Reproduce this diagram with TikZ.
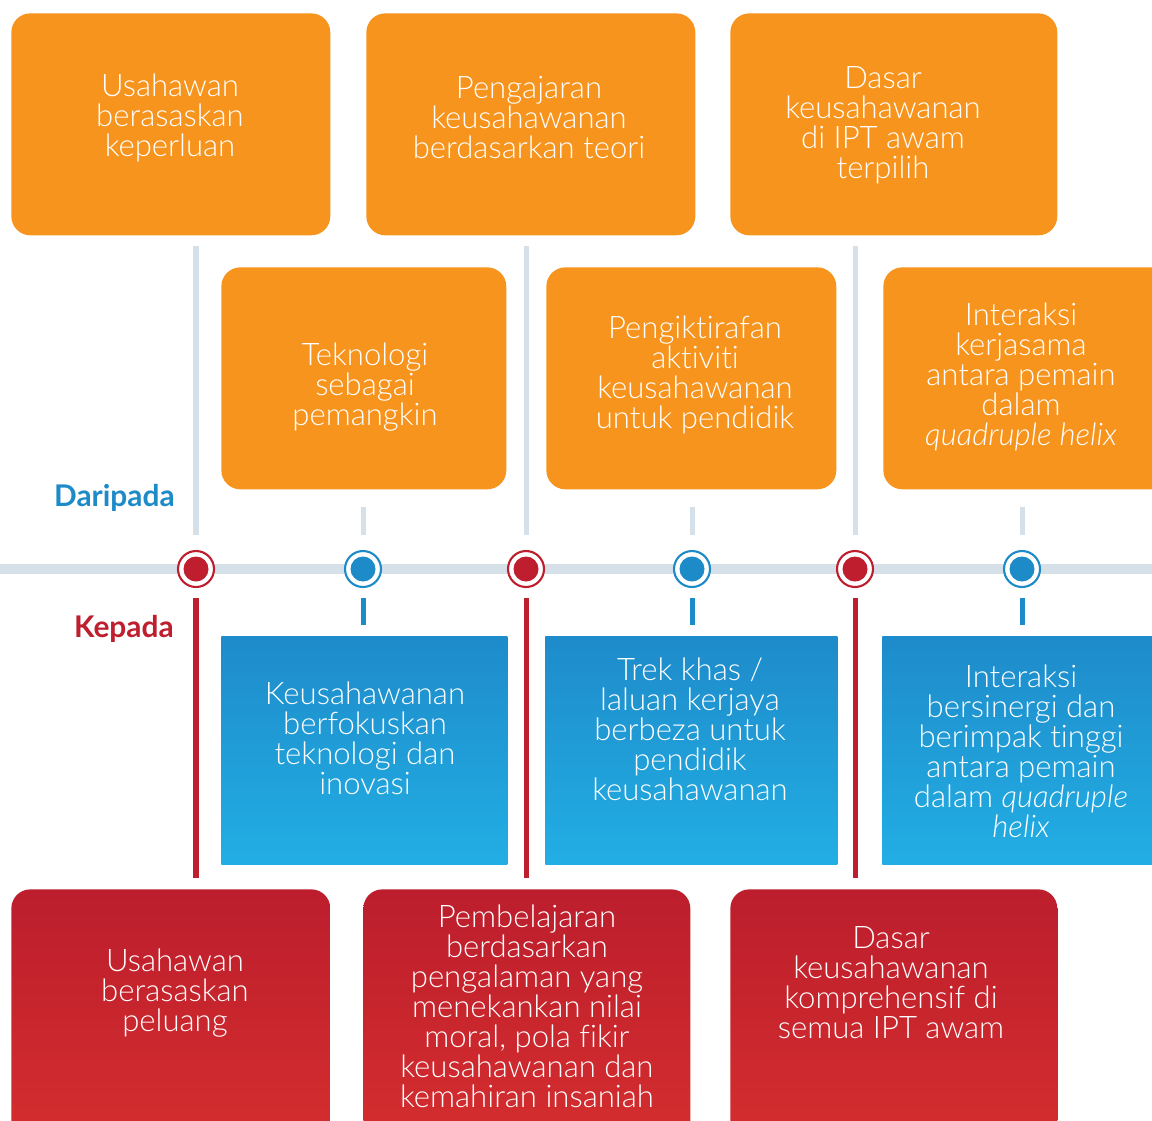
\documentclass[tikz,border=0pt]{standalone}
\usepackage{fontspec}
\setmainfont{Lato}[Ligatures=NoCommon, UprightFont=* Light, ItalicFont=* Light Italic, BoldFont=* Bold]
\usetikzlibrary{calc}

\definecolor{oren}{HTML}{F7941D}
\definecolor{garis}{HTML}{D6E0E8}
\definecolor{biru}{HTML}{1E8BC9}
\definecolor{biruAtas}{HTML}{1E8BCA}
\definecolor{biruBawah}{HTML}{22AEE4}
\definecolor{merah}{HTML}{BE1E2D}
\definecolor{merahAtas}{HTML}{BC1E2D}
\definecolor{merahBawah}{HTML}{D52E2E}

\begin{document}
\begin{tikzpicture}[
    x=0.02cm, y=-0.02cm,
    lama/.style={fill=oren,rounded corners=0.38cm,anchor=north west,minimum height=4.44cm,inner sep=0pt},
    baru/.style={top color=biruAtas,bottom color=biruBawah,anchor=north west,minimum height=4.56cm,inner sep=0pt},
    akhir/.style={top color=merahAtas,bottom color=merahBawah,rounded corners=0.38cm,anchor=north west,minimum height=5.2cm,inner sep=0pt},
    teks/.style={text=white,align=center,inner sep=0pt,font=\fontsize{17.7}{17.07}\selectfont},
    tajuk/.style={anchor=east,inner sep=0pt,font=\fontsize{17}{17}\selectfont\bfseries},
    tanda/.style={circle,draw=#1,line width=1.2pt,fill=white,minimum size=0.72cm,inner sep=0pt,
      path picture={\fill[#1] (path picture bounding box.center) circle (0.25cm);}},
    kelabu/.style={draw=garis,line width=2.85pt},
    tegak/.style={draw=#1,line width=2.85pt}]
  \useasboundingbox (0,0) rectangle (1152,1120);
  \clip (0,0) rectangle (1152,1120);
  \fill[white] (0,0) rectangle (1152,1120);

  \node[lama,minimum width=6.38cm] (lama1) at (11,13) {};
  \node[lama,minimum width=6.58cm] (lama2) at (366,13) {};
  \node[lama,minimum width=6.54cm] (lama3) at (730,13) {};
  \node[lama,minimum width=5.70cm] (lama4) at (221,267) {};
  \node[lama,minimum width=5.80cm] (lama5) at (546,267) {};
  \node[lama,minimum width=6.40cm] (lama6) at (883,267) {};
  \node[teks] (tlama1) at (170,118) {Usahawan\\berasaskan\\keperluan};
  \node[teks] (tlama2) at (529,118) {Pengajaran\\keusahawanan\\berdasarkan teori};
  \node[teks] (tlama3) at (883,125) {Dasar\\keusahawanan\\di IPT awam\\terpilih};
  \node[teks] (tlama4) at (365,387) {Teknologi\\sebagai\\pemangkin};
  \node[teks] (tlama5) at (695,375) {Pengiktirafan\\aktiviti\\keusahawanan\\untuk pendidik};
  \node[teks] (tlama6) at (1021,377) {Interaksi\\kerjasama\\antara pemain\\dalam\\\textit{quadruple helix}};

  \coordinate (kiri) at (0,569);
  \coordinate (kanan) at (1152,569);
  \draw[garis,line width=5.7pt] (kiri) -- (kanan);

  \node[tajuk,text=biru] (daripada) at (175,498) {Daripada};
  \node[tajuk,text=merah] (kepada) at (174,629) {Kepada};

  \node[tanda=merah] (m1) at (196,569) {};
  \node[tanda=biru] (m2) at (363,569) {};
  \node[tanda=merah] (m3) at (526,569) {};
  \node[tanda=biru] (m4) at (692,569) {};
  \node[tanda=merah] (m5) at (855,569) {};
  \node[tanda=biru] (m6) at (1022,569) {};

  \draw[kelabu] ($(m1 |- lama1.south)+(0,10)$) -- ($(m1.north)+(0,-15)$);
  \draw[kelabu] ($(m3 |- lama2.south)+(0,10)$) -- ($(m3.north)+(0,-15)$);
  \draw[kelabu] ($(m5 |- lama3.south)+(0,10)$) -- ($(m5.north)+(0,-15)$);
  \draw[kelabu] ($(m2 |- lama4.south)+(0,17)$) -- ($(m2.north)+(0,-15)$);
  \draw[kelabu] ($(m4 |- lama5.south)+(0,17)$) -- ($(m4.north)+(0,-15)$);
  \draw[kelabu] ($(m6 |- lama6.south)+(0,17)$) -- ($(m6.north)+(0,-15)$);

  \node[baru,minimum width=5.72cm] (baru1) at (221,636) {};
  \node[baru,minimum width=5.84cm] (baru2) at (545,636) {};
  \node[baru,minimum width=6.40cm] (baru3) at (882,636) {};
  \node[teks] (tbaru1) at (365,738) {Keusahawanan\\berfokuskan\\teknologi dan\\inovasi};
  \node[teks] (tbaru2) at (690,729) {Trek khas /\\laluan kerjaya\\berbeza untuk\\pendidik\\keusahawanan};
  \node[teks] (tbaru3) at (1021,751) {Interaksi\\bersinergi dan\\berimpak tinggi\\antara pemain\\dalam \textit{quadruple}\\\textit{helix}};

  \node[akhir,minimum width=6.38cm] (akhir1) at (11,889) {};
  \node[akhir,minimum width=6.54cm] (akhir2) at (363,889) {};
  \node[akhir,minimum width=6.54cm] (akhir3) at (730,889) {};
  \node[teks] (takhir1) at (175,993) {Usahawan\\berasaskan\\peluang};
  \node[teks] (takhir2) at (527,1006) {Pembelajaran\\berdasarkan\\pengalaman yang\\menekankan nilai\\moral, pola fikir\\keusahawanan dan\\kemahiran insaniah};
  \node[teks] (takhir3) at (891,983) {Dasar\\keusahawanan\\komprehensif di\\semua IPT awam};

  \draw[tegak=biru] ($(m2.south)+(0,10)$) -- ($(m2 |- baru1.north)+(0,-11)$);
  \draw[tegak=biru] ($(m4.south)+(0,10)$) -- ($(m4 |- baru2.north)+(0,-11)$);
  \draw[tegak=biru] ($(m6.south)+(0,10)$) -- ($(m6 |- baru3.north)+(0,-11)$);
  \draw[tegak=merah] ($(m1.south)+(0,10)$) -- ($(m1 |- akhir1.north)+(0,-11)$);
  \draw[tegak=merah] ($(m3.south)+(0,10)$) -- ($(m3 |- akhir2.north)+(0,-11)$);
  \draw[tegak=merah] ($(m5.south)+(0,10)$) -- ($(m5 |- akhir3.north)+(0,-11)$);
\end{tikzpicture}
\end{document}
